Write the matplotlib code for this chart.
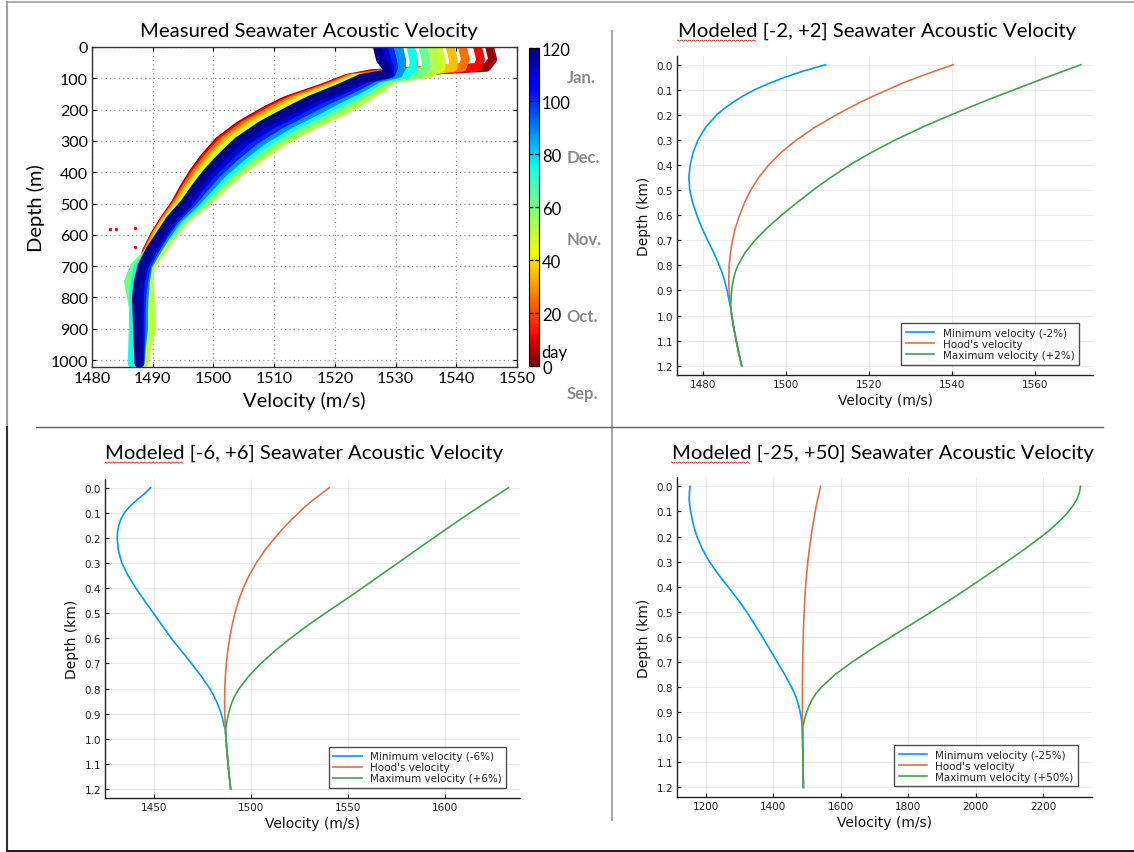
import numpy as np
import matplotlib
matplotlib.use("Agg")
import matplotlib.pyplot as plt
from matplotlib.lines import Line2D
from matplotlib.cm import ScalarMappable
from matplotlib.colors import Normalize
from matplotlib.transforms import blended_transform_factory

W, H = 1134, 853

# measured profiles (top-left panel): velocity (m/s) at each depth (m), one list per day
meas_depth = [0, 40, 65, 85, 100, 130, 170, 200, 250, 300, 350, 400, 450, 500,
              550, 600, 650, 700, 750, 800, 850, 900, 950, 1010]
meas_days = [3, 12, 25, 35, 48, 52, 62, 75, 88, 100, 110, 118]
meas_vel = [
    [1545.5, 1546, 1545, 1526, 1522.0, 1518.0, 1512.0, 1508.8, 1504.3, 1500.9, 1498.6, 1496.7, 1495.1, 1493.7, 1491.9, 1490.3, 1489.0, 1488.2, 1487.8, 1487.6, 1487.8, 1488, 1488, 1488],
    [1543.5, 1544, 1543.5, 1527, 1522.2, 1518.3, 1512.4, 1509.2, 1504.7, 1501.2, 1498.9, 1496.9, 1495.3, 1493.8, 1492.0, 1490.4, 1489.1, 1488.2, 1487.8, 1487.6, 1487.8, 1488, 1488, 1488],
    [1541, 1541.5, 1541, 1528, 1522.5, 1518.7, 1512.9, 1509.7, 1505.1, 1501.6, 1499.2, 1497.2, 1495.5, 1494.0, 1492.1, 1490.5, 1489.2, 1488.3, 1487.9, 1487.8, 1488, 1488, 1488, 1488],
    [1539, 1539.5, 1539.5, 1532, 1523.0, 1519.3, 1513.6, 1510.5, 1505.9, 1502.3, 1499.8, 1497.7, 1495.9, 1494.3, 1492.3, 1490.7, 1489.4, 1488.4, 1488.1, 1488.2, 1488.5, 1488.6, 1488.4, 1488.2],
    [1537, 1537.5, 1537.5, 1535.5, 1523.5, 1520.0, 1514.5, 1511.4, 1506.7, 1503.0, 1500.4, 1498.2, 1496.4, 1494.7, 1492.6, 1490.9, 1490.3, 1489.4, 1489.4, 1489.6, 1489.8, 1489.8, 1489.2, 1488.6],
    [1536, 1536.5, 1536.5, 1535.5, 1529.7, 1527.8, 1524.5, 1521.8, 1516.4, 1511.6, 1507.8, 1504.3, 1501.4, 1498.6, 1495.3, 1493.3, 1491.5, 1489.6, 1489.4, 1489.5, 1489.7, 1489.6, 1489, 1488.5],
    [1534.5, 1535, 1535, 1534, 1528.8, 1526.6, 1523.0, 1520.2, 1515.0, 1510.3, 1506.7, 1503.4, 1500.6, 1498.0, 1494.9, 1492.9, 1489.6, 1487.0, 1486.0, 1486.5, 1487, 1487.2, 1487, 1486.8],
    [1532.5, 1533, 1533, 1532, 1527.9, 1525.5, 1521.6, 1518.8, 1513.6, 1509.1, 1505.7, 1502.6, 1500.0, 1497.5, 1494.5, 1492.6, 1490.0, 1487.6, 1487.1, 1486.8, 1486.8, 1486.8, 1486.7, 1486.6],
    [1530.5, 1531, 1531, 1530.5, 1527.1, 1524.5, 1520.3, 1517.4, 1512.3, 1508.0, 1504.7, 1501.7, 1499.3, 1496.9, 1494.1, 1492.3, 1490.7, 1489.2, 1488.8, 1488.6, 1488.5, 1488.5, 1488.2, 1487.9],
    [1529, 1529.5, 1529.7, 1529.3, 1526.2, 1523.3, 1518.8, 1515.8, 1510.8, 1506.7, 1503.6, 1500.8, 1498.5, 1496.3, 1493.7, 1491.9, 1490.3, 1489.0, 1488.5, 1488.2, 1488.1, 1488.1, 1488, 1487.9],
    [1528, 1528.5, 1529, 1529, 1525.2, 1522.1, 1517.3, 1514.3, 1509.4, 1505.4, 1502.5, 1499.9, 1497.7, 1495.8, 1493.3, 1491.6, 1489.9, 1488.6, 1488.0, 1487.8, 1487.8, 1487.8, 1487.8, 1487.8],
    [1527, 1527.5, 1528.5, 1528.8, 1524.3, 1520.9, 1515.8, 1512.7, 1507.9, 1504.1, 1501.4, 1499.0, 1497.0, 1495.2, 1492.9, 1491.2, 1489.5, 1488.2, 1487.6, 1487.3, 1487.4, 1487.5, 1487.6, 1487.7],
]
stray_vel = [1483, 1484, 1487, 1487]
stray_depth = [580, 580, 578, 640]
cbar_ticks = [0, 20, 40, 60, 80, 100, 120]
month_names = ["Sep.", "Oct.", "Nov.", "Dec.", "Jan."]
month_days = [-10, 19, 48, 79, 109]

# modeled profiles (km, m/s)
depth_km = [0.0, 0.025, 0.05, 0.075, 0.1, 0.125, 0.15, 0.175, 0.2, 0.25, 0.3, 0.35, 0.4, 0.45, 0.5,
            0.55, 0.6, 0.65, 0.7, 0.75, 0.8, 0.825, 0.85, 0.875, 0.9, 0.925, 0.95, 0.96,
            1.0, 1.05, 1.1, 1.15, 1.2]
tail = [1486.7, 1487.0, 1487.5, 1488.1, 1488.7, 1489.4]
hood = [1540.3, 1536.0, 1531.8, 1527.9, 1524.5, 1521.1, 1517.9, 1515.0, 1512.2, 1507.0, 1502.6, 1498.9,
        1495.9, 1493.5, 1491.6, 1490.1, 1488.9, 1487.9, 1487.2, 1486.7, 1486.4, 1486.35, 1486.3, 1486.3,
        1486.4, 1486.5, 1486.6] + tail
min_2 = [1509.6, 1504.3, 1499.8, 1495.9, 1492.5, 1489.7, 1487.3, 1485.2, 1483.4, 1480.7, 1478.9, 1477.7,
         1477.0, 1476.7, 1476.9, 1477.6, 1478.6, 1479.8, 1481.2, 1482.7, 1484.0, 1484.6, 1485.1, 1485.5,
         1485.9, 1486.2, 1486.5] + tail
max_2 = [1571.1, 1567.0, 1562.9, 1558.9, 1555.0, 1551.0, 1547.2, 1543.5, 1539.8, 1532.8, 1526.4, 1520.6,
         1515.4, 1510.8, 1506.6, 1502.7, 1499.0, 1495.6, 1492.6, 1490.2, 1488.5, 1487.9, 1487.5, 1487.2,
         1487.0, 1486.9, 1486.8] + tail
min_6 = [1448.1, 1444.8, 1440.9, 1437.3, 1434.6, 1432.8, 1431.7, 1431.1, 1430.9, 1431.5, 1433.3, 1436.5,
         1440.5, 1445.0, 1449.6, 1454.2, 1458.8, 1464.0, 1469.2, 1474.2, 1478.6, 1480.5, 1482.0, 1483.4,
         1484.5, 1485.4, 1486.1] + tail
max_6 = [1632.7, 1627.7, 1622.7, 1617.8, 1612.9, 1608.1, 1603.4, 1598.7, 1594.0, 1584.8, 1575.6, 1566.4,
         1557.2, 1547.8, 1538.2, 1528.9, 1520.2, 1512.2, 1505.0, 1498.8, 1493.8, 1491.8, 1490.3, 1489.2,
         1488.3, 1487.6, 1487.1] + tail
min_25 = [1153.6, 1151.8, 1151.0, 1152.5, 1155.5, 1159.0, 1163.0, 1168.0, 1174.0, 1190.0, 1211.0, 1237.0,
          1266.0, 1295.0, 1321.0, 1345.0, 1368.0, 1390.0, 1412.0, 1434.0, 1454.0, 1463.0, 1470.0, 1475.5,
          1480.0, 1483.3, 1485.5] + tail
max_50 = [2310.0, 2307.0, 2300.0, 2289.0, 2275.0, 2258.0, 2239.0, 2218.0, 2195.0, 2145.0, 2092.0, 2038.0,
          1983.0, 1927.0, 1869.0, 1809.0, 1749.0, 1690.0, 1634.0, 1583.0, 1543.0, 1527.0, 1515.0, 1506.0,
          1499.0, 1493.5, 1489.0] + tail


def box(x0, y0, x1, y1):
    return [x0 / W, 1 - y1 / H, (x1 - x0) / W, (y1 - y0) / H]


def fline(fig, xs, ys, color, lw):
    fig.add_artist(Line2D([x / W for x in xs], [1 - y / H for y in ys],
                          transform=fig.transFigure, color=color, lw=lw))


fig = plt.figure(figsize=(W / 100, H / 100), dpi=100)
fig.patch.set_facecolor("white")

# frame and dividers
fline(fig, [7, W], [3, 3], "#b0b0b0", 1.5)
fline(fig, [7, 7], [3, 428], "#a0a0a0", 1.5)
fline(fig, [7, 7], [428, 852], "#303030", 1.5)
fline(fig, [7, W], [851.5, 851.5], "#202020", 1.5)
fline(fig, [612, 612], [32, 821], "#a0a0a0", 1.3)
fline(fig, [36, 1103], [428, 428], "#606060", 1.0)

title_font = "Lato"

# ---- measured panel
ax1 = fig.add_axes(box(92, 48, 517, 368))
cmap = plt.get_cmap("jet_r")
norm = Normalize(0, 120)
for day, vel in zip(meas_days, meas_vel):
    ax1.plot(vel, meas_depth, color=cmap(norm(day)), lw=6.3, solid_capstyle="round",
             solid_joinstyle="round", zorder=2)
ax1.scatter(stray_vel, stray_depth, s=2, color="red", zorder=3)
ax1.set_xlim(1480, 1550)
ax1.set_ylim(1022, 0)
ax1.set_xticks(range(1480, 1551, 10))
ax1.set_yticks(range(0, 1001, 100))
ax1.grid(True, color="#9a9a9a", ls=(0, (1, 2.5)), lw=0.9)
ax1.set_axisbelow(True)
ax1.tick_params(direction="in", length=3, top=True, right=True, labelsize=11.5, pad=3)
for lab in ax1.get_xticklabels() + ax1.get_yticklabels():
    lab.set_family(title_font)
for s in ax1.spines.values():
    s.set_color("#333333")
    s.set_linewidth(1.0)
ax1.set_xlabel("Velocity (m/s)", family=title_font, fontsize=14.5, labelpad=4)
ax1.set_ylabel("Depth (m)", family=title_font, fontsize=14.5, labelpad=4)

cax = fig.add_axes(box(529.3, 49.3, 539.3, 367.3))
cb = fig.colorbar(ScalarMappable(norm=norm, cmap=cmap), cax=cax)
cb.set_ticks(cbar_ticks)
cb.outline.set_linewidth(0.8)
cax.tick_params(direction="in", length=3, width=1, color="#222222", labelsize=12, pad=2,
                left=True)
for lab in cax.get_yticklabels():
    lab.set_family(title_font)
tr = blended_transform_factory(cax.transAxes, cax.transData)
cax.text(1.2, 5.5, "day", transform=tr, family=title_font, fontsize=12, va="center", ha="left")
for name, d in zip(month_names, month_days):
    cax.text(3.75, d, name, transform=tr, family=title_font, fontsize=12, fontweight="bold",
             color="#8a8a8a", va="center", ha="left", clip_on=False)

# ---- modeled panels
blue, orange, green = "#009AFA", "#E36F47", "#3EA44E"


def modeled(rect, vmin, vmax, lo_lab, hi_lab, xlim, xticks):
    ax = fig.add_axes(box(*rect))
    ax.plot(vmin, depth_km, color=blue, lw=1.2, label=lo_lab)
    ax.plot(hood, depth_km, color=orange, lw=1.2, label="Hood's velocity")
    ax.plot(vmax, depth_km, color=green, lw=1.2, label=hi_lab)
    ax.set_xlim(*xlim)
    ax.set_ylim(1.236, -0.036)
    ax.set_xticks(xticks)
    ax.set_yticks([i / 10 for i in range(13)])
    ax.set_yticklabels([f"{i / 10:.1f}" for i in range(13)])
    ax.grid(True, color="black", alpha=0.08, lw=0.6)
    for side in ["top", "right"]:
        ax.spines[side].set_visible(False)
    for side in ["left", "bottom"]:
        ax.spines[side].set_color("#222222")
        ax.spines[side].set_linewidth(1.0)
    ax.tick_params(direction="in", length=3, color="#222222", labelsize=7.5,
                   labelcolor="#222222", pad=3)
    ax.set_xlabel("Velocity (m/s)", fontsize=10, color="#111111", labelpad=3)
    ax.set_ylabel("Depth (km)", fontsize=10, color="#111111", labelpad=4)
    leg = ax.legend(loc="lower right", bbox_to_anchor=(1 - 14 / 416, 10 / 319),
                    borderaxespad=0, fontsize=7.5, frameon=True, fancybox=False,
                    handlelength=2.7, handletextpad=0.8, labelspacing=0.1,
                    borderpad=0.45)
    leg.get_frame().set_edgecolor("#222222")
    leg.get_frame().set_linewidth(1.0)
    for t in leg.get_texts():
        t.set_color("#222222")
    return ax


modeled((677.3, 56.7, 1093, 375.7), min_2, max_2, "Minimum velocity (-2%)",
        "Maximum velocity (+2%)", (1473.9, 1574.0), [1480, 1500, 1520, 1540, 1560])
modeled((105.2, 479.7, 520.3, 799.0), min_6, max_6, "Minimum velocity (-6%)",
        "Maximum velocity (+6%)", (1424.7, 1638.8), [1450, 1500, 1550, 1600])
modeled((677.3, 478.3, 1092.4, 797.5), min_25, max_50, "Minimum velocity (-25%)",
        "Maximum velocity (+50%)", (1115.8, 2345.4), [1200, 1400, 1600, 1800, 2000, 2200])

# ---- titles
titles = [
    (139.7, 31, "Measured Seawater Acoustic Velocity"),
    (677.7, 31, "Modeled [-2, +2] Seawater Acoustic Velocity"),
    (105.0, 453, "Modeled [-6, +6] Seawater Acoustic Velocity"),
    (671.5, 453, "Modeled [-25, +50] Seawater Acoustic Velocity"),
]
fig.canvas.draw()
renderer = fig.canvas.get_renderer()
for x, y, txt in titles:
    fig.text(x / W, 1 - y / H, txt, family=title_font, fontsize=14.6, ha="left", va="center")
    if txt.startswith("Modeled"):
        t = fig.text(x / W, 1 - y / H, "Modeled", family=title_font, fontsize=14.6,
                     ha="left", va="center", alpha=0)
        bb = t.get_window_extent(renderer)
        xs = np.arange(bb.x0, bb.x1, 2.0)
        ys = bb.y0 - 1.5 + np.where(np.arange(len(xs)) % 2 == 0, 0.0, -1.2)
        fig.add_artist(Line2D(xs / W, ys / H, transform=fig.transFigure, color="#e03030", lw=0.7))

fig.savefig("out.png", dpi=100)
